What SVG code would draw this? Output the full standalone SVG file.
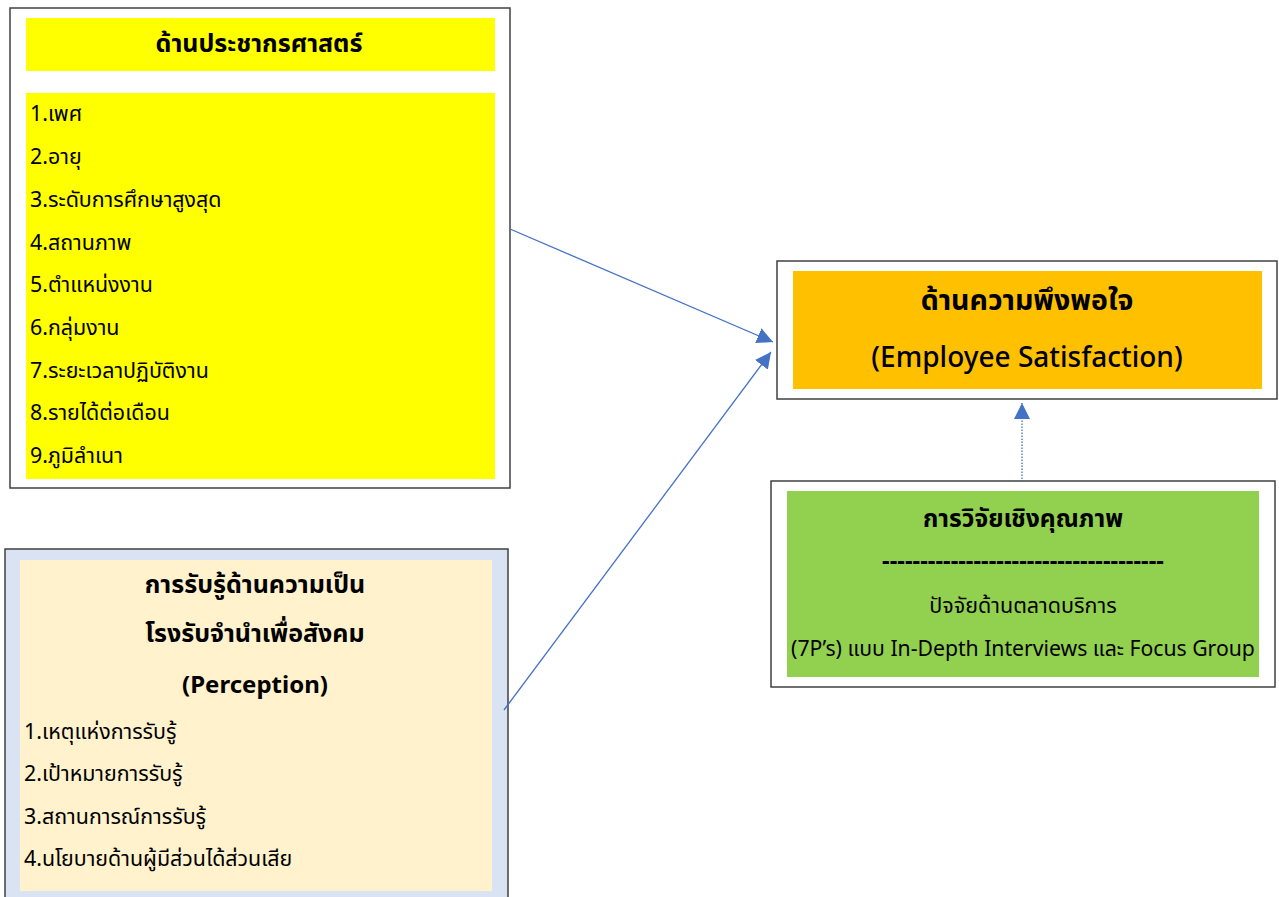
<svg xmlns="http://www.w3.org/2000/svg" width="1279" height="897" viewBox="0 0 1279 897">
<defs>
<style>
text{font-family:"Noto Sans","Noto Sans Thai","DejaVu Sans",sans-serif;fill:#000;dominant-baseline:central}
.t{font-size:25px;font-weight:bold;text-anchor:middle}
.i{font-size:21.4px}
.c{font-size:21.5px;text-anchor:middle}
.frame{fill:#fff;stroke:#404040;stroke-width:1.5}
.conn{stroke:#4472c4;stroke-width:1.3;fill:none}
</style>
<marker id="ahb" viewBox="0 0 10 10" refX="10" refY="5" markerWidth="16" markerHeight="16" markerUnits="userSpaceOnUse" orient="auto">
<path d="M0,0 L10,5 L0,10 z" fill="#4472c4"/>
</marker>
</defs>
<rect width="1279" height="897" fill="#fff"/>

<g id="demographics">
<rect class="frame" x="10" y="8" width="500" height="480"/>
<rect x="26" y="18" width="469" height="53" fill="#ffff00"/>
<rect x="26" y="93" width="469" height="386" fill="#ffff00"/>
<text class="t" x="259" y="42">ด้านประชากรศาสตร์</text>
<text class="i" x="30" y="112">1.เพศ</text>
<text class="i" x="30" y="155">2.อายุ</text>
<text class="i" x="30" y="198">3.ระดับการศึกษาสูงสุด</text>
<text class="i" x="30" y="241">4.สถานภาพ</text>
<text class="i" x="30" y="283">5.ตำแหน่งงาน</text>
<text class="i" x="30" y="326">6.กลุ่มงาน</text>
<text class="i" x="30" y="369">7.ระยะเวลาปฏิบัติงาน</text>
<text class="i" x="30" y="411">8.รายได้ต่อเดือน</text>
<text class="i" x="30" y="454">9.ภูมิลำเนา</text>
</g>

<g id="perception">
<rect x="5" y="549" width="503" height="360" fill="#dae3f3" stroke="#404040" stroke-width="1.5"/>
<rect x="20" y="560" width="472" height="331" fill="#fff2cc"/>
<text class="t" x="255" y="583">การรับรู้ด้านความเป็น</text>
<text class="t" x="255" y="632">โรงรับจำนำเพื่อสังคม</text>
<text class="t" x="255" y="683" style="font-size:24px">(Perception)</text>
<text class="i" x="24" y="730">1.เหตุแห่งการรับรู้</text>
<text class="i" x="24" y="772">2.เป้าหมายการรับรู้</text>
<text class="i" x="24" y="815">3.สถานการณ์การรับรู้</text>
<text class="i" x="24" y="857">4.นโยบายด้านผู้มีส่วนได้ส่วนเสีย</text>
</g>

<g id="satisfaction">
<rect class="frame" x="777" y="261" width="500" height="138"/>
<rect x="793" y="271" width="469" height="118" fill="#ffc000"/>
<text class="t" x="1027" y="299" style="font-size:28.5px">ด้านความพึงพอใจ</text>
<text class="t" x="1027" y="356" style="font-size:28px;font-weight:500">(Employee Satisfaction)</text>
</g>

<g id="qualitative">
<rect class="frame" x="771" y="481" width="504" height="206"/>
<rect x="787" y="491" width="472" height="186" fill="#92d050"/>
<text class="t" x="1023" y="517" style="font-size:24.6px">การวิจัยเชิงคุณภาพ</text>
<text class="t" x="1023" y="560" style="font-size:23.8px">-------------------------------------</text>
<text class="c" x="1023" y="604">ปัจจัยด้านตลาดบริการ</text>
<text class="c" x="1023" y="647" style="font-size:21.2px">(7P’s) แบบ In-Depth Interviews และ Focus Group</text>
</g>

<g id="connectors">
<line class="conn" x1="510" y1="229" x2="773" y2="342" marker-end="url(#ahb)"/>
<line class="conn" x1="504" y1="710" x2="771" y2="352" marker-end="url(#ahb)"/>
<line class="conn" x1="1022" y1="482" x2="1022" y2="403" stroke-dasharray="1.5,1.5" marker-end="url(#ahb)"/>
</g>
</svg>
